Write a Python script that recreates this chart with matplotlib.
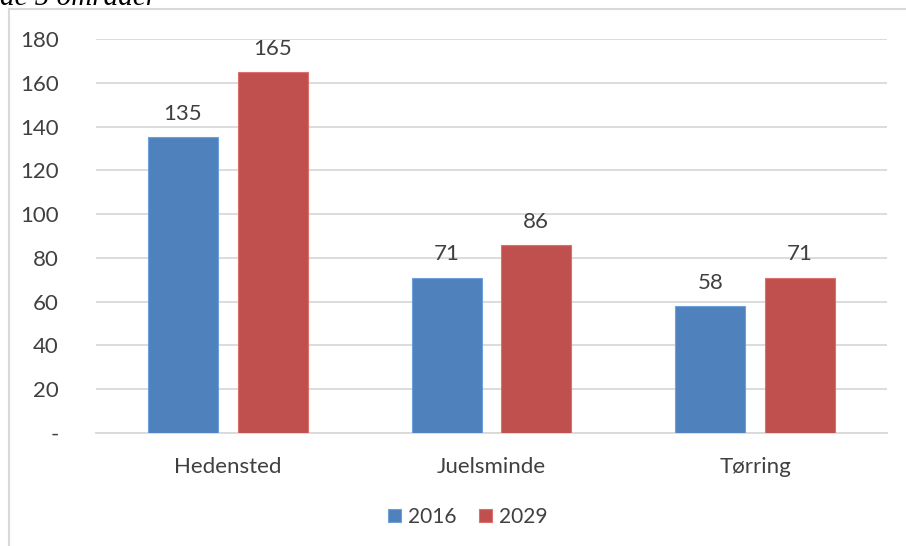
import matplotlib

matplotlib.use("Agg")
import matplotlib.pyplot as plt
import numpy as np

areas = ["Hedensted", "Juelsminde", "Tørring"]
years = ["2016", "2029"]
values_2016 = [135, 71, 58]
values_2029 = [165, 86, 71]
yticks = [0, 20, 40, 60, 80, 100, 120, 140, 160, 180]
ytick_labels = ["-"] + [str(v) for v in yticks[1:]]

colors = ["#4f81bd", "#c0504d"]
text_color = "#404040"
grid_color = "#d9d9d9"

plt.rcParams["font.family"] = ["Lato", "DejaVu Sans"]

W, H = 906, 546
fig = plt.figure(figsize=(W / 100, H / 100), dpi=100)

# plot area in pixel terms
left, right, top, bottom = 96, 887, 39, 433
ax = fig.add_axes([left / W, 1 - bottom / H, (right - left) / W, (bottom - top) / H])

x = np.arange(len(areas))
bar_w = 0.265
offset = 0.17
series = [values_2016, values_2029]
for i, (vals, col, year) in enumerate(zip(series, colors, years)):
    pos = x + (offset if i else -offset)
    edge = [min(1, c + 0.12) for c in matplotlib.colors.to_rgb(col)]
    bars = ax.bar(pos, vals, width=bar_w, color=col, edgecolor=edge, linewidth=0.8,
                  label=year, zorder=3)
    for b, v in zip(bars, vals):
        ax.text(b.get_x() + b.get_width() / 2, v + 6, str(v), ha="center", va="bottom",
                fontsize=16, color=text_color)

ax.set_xlim(-0.5, len(areas) - 0.5)
ax.set_ylim(0, 180)
ax.set_yticks(yticks)
ax.set_yticklabels(ytick_labels)
ax.set_xticks(x)
ax.set_xticklabels(areas)
ax.yaxis.grid(True, color=grid_color, linewidth=1.3, zorder=0)
ax.set_axisbelow(True)
for s in ["top", "right", "left"]:
    ax.spines[s].set_visible(False)
ax.spines["bottom"].set_color(grid_color)
ax.spines["bottom"].set_linewidth(1.3)
ax.tick_params(axis="both", length=0, labelsize=16, colors=text_color)
ax.tick_params(axis="y", pad=27)
ax.tick_params(axis="x", pad=17)

ax.legend(loc="center", bbox_to_anchor=(468 / W, 1 - 517 / H), bbox_transform=fig.transFigure,
          ncol=2, frameon=False, fontsize=15, handlelength=0.6, handleheight=0.6,
          handletextpad=0.35, columnspacing=1.1, labelcolor=text_color)

# chart frame (only the top and left edges fall inside the image)
fig.add_artist(plt.Line2D([9 / W, 9 / W], [0, 1 - 9 / H], color=grid_color, linewidth=1.5))
fig.add_artist(plt.Line2D([9 / W, 1], [1 - 9 / H, 1 - 9 / H], color=grid_color, linewidth=1.5))

# heading text running off the top edge
fig.text(0, 1 - 5 / H, "de 5 områder", family=["Liberation Serif"], style="italic",
         fontsize=21, color="black", va="baseline", ha="left")

fig.savefig("out.png", dpi=100)
